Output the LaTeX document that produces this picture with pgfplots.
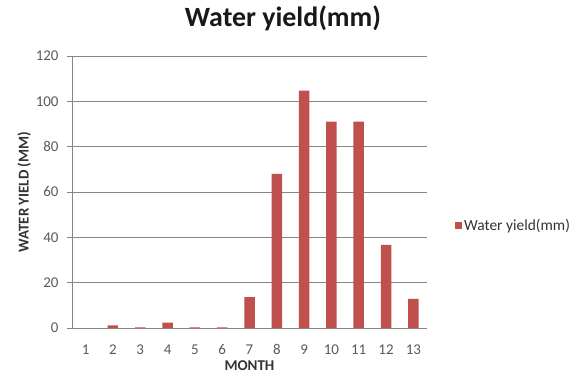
\documentclass[border=0pt]{standalone}
\usepackage{pgfplots}
\pgfplotsset{compat=1.18}
\usepackage{fontspec}
\setmainfont{Carlito}

\definecolor{barred}{RGB}{192,80,77}
\definecolor{gridgray}{RGB}{134,134,134}
\definecolor{ticktext}{RGB}{89,89,89}

\begin{document}
\begin{tikzpicture}
% overall canvas
\path[use as bounding box] (0,0) rectangle (580bp,373bp);
\begin{axis}[
  at={(72bp,45bp)}, anchor=south west,
  scale only axis,
  width=355bp, height=272bp,
  ybar, bar width=10.5bp, bar shift=0pt,
  xmin=0.5, xmax=13.5,
  ymin=0, ymax=120,
  ytick={0,20,...,120},
  xtick={1,...,13},
  major x tick style={draw=none},
  extra x ticks={0.5,1.5,...,13.5},
  extra x tick labels={},
  extra x tick style={major tick length=5bp, tick style={draw=gridgray, line width=0.6pt}, tick align=outside, grid=none},
  ymajorgrids,
  grid style={gridgray, line width=0.7pt},
  axis x line*=bottom, axis y line*=left,
  axis line style={gridgray, line width=0.7pt, -},
  y tick style={draw=gridgray, line width=0.6pt},
  major tick length=5bp, tick align=outside,
  tick label style={font=\fontsize{15}{17}\selectfont, text=ticktext},
  xticklabel style={yshift=-8bp},
  yticklabel style={xshift=-5bp},
  /pgf/number format/assume math mode=true,
  xlabel={\textbf{MONTH}},
  ylabel={\textbf{WATER YIELD (MM)}},
  label style={font=\fontsize{15}{17}\selectfont, text=black!80},
  xlabel style={yshift=11bp},
  ylabel style={yshift=-2bp},
  legend style={at={(1.07,0.375)}, anchor=west, draw=none, fill=none,
    font=\fontsize{15.5}{17}\selectfont, text=black!80},
  legend image code/.code={\fill[barred] (0bp,-3.5bp) rectangle (7bp,3.5bp);},
]
\addplot[fill=barred, draw=none] coordinates {
  (1,0) (2,1.2) (3,0.3) (4,2.4) (5,0.3) (6,0.3) (7,13.6)
  (8,68) (9,104.7) (10,91) (11,91) (12,36.7) (13,12.9)
};
\addlegendentry{Water yield(mm)}
\end{axis}
% chart title, centred over the whole canvas
\node[anchor=base, font=\fontsize{28}{32}\selectfont\bfseries, text=black!90]
  at (283bp,346bp) {Water yield(mm)};
\end{tikzpicture}
\end{document}
